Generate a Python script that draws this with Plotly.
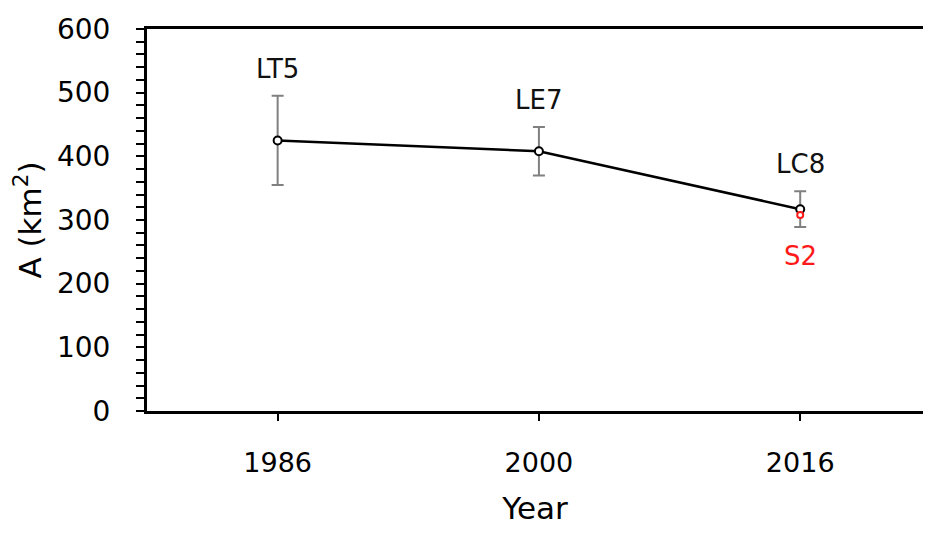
import plotly.graph_objects as go

years = ["1986", "2000", "2016"]
sensors = ["LT5", "LE7", "LC8"]
area = [425, 408, 317]
area_err = [70, 38, 28]
s2_index = 2
s2_area = [308]
s2_label = "S2"

FONT = "DejaVu Sans"
idx = list(range(len(years)))

fig = go.Figure()
fig.add_trace(go.Scatter(
    x=idx, y=area, mode="lines+markers",
    line=dict(color="black", width=2.5),
    marker=dict(symbol="circle", size=8, color="white", line=dict(color="black", width=2)),
    error_y=dict(type="data", array=area_err, visible=True, color="#808080", thickness=2, width=6),
    showlegend=False,
))
fig.add_trace(go.Scatter(
    x=[s2_index], y=s2_area, mode="markers",
    marker=dict(symbol="circle", size=6, color="white", line=dict(color="#ff1a1a", width=2)),
    showlegend=False,
))

for i, lab, v, e in zip(idx, sensors, area, area_err):
    fig.add_annotation(x=i, y=v + e, text=lab, showarrow=False, yanchor="bottom",
                       yshift=10, font=dict(family=FONT, size=26, color="#111"))
fig.add_annotation(x=s2_index, y=area[s2_index] - area_err[s2_index], text=s2_label,
                   showarrow=False, yanchor="top", yshift=-12,
                   font=dict(family=FONT, size=26, color="#ff1a1a"))

fig.update_layout(
    width=915, height=518,
    margin=dict(l=139, r=0, t=21, b=115),
    paper_bgcolor="white", plot_bgcolor="white",
    font=dict(family=FONT, color="black"),
    xaxis=dict(
        range=[-0.5, 2.47], tickmode="array", tickvals=idx, ticktext=years,
        showline=True, linecolor="black", linewidth=3, mirror=True,
        ticks="outside", ticklen=7, tickwidth=2, tickcolor="black",
        tickfont=dict(size=27), ticklabelstandoff=19,
        showgrid=False, zeroline=False,
        title=dict(text="Year", font=dict(size=31), standoff=26),
    ),
    yaxis=dict(
        range=[0, 600], dtick=100,
        showline=True, linecolor="black", linewidth=3,
        ticks="outside", ticklen=8, tickwidth=2, tickcolor="black",
        minor=dict(dtick=20, ticks="outside", ticklen=8, tickwidth=2, tickcolor="black"),
        tickfont=dict(size=28), ticklabelstandoff=20,
        showgrid=False, zeroline=False,
        title=dict(text="A (km<sup>2</sup>)", font=dict(size=31), standoff=10),
    ),
)

fig.write_html("out.html")
